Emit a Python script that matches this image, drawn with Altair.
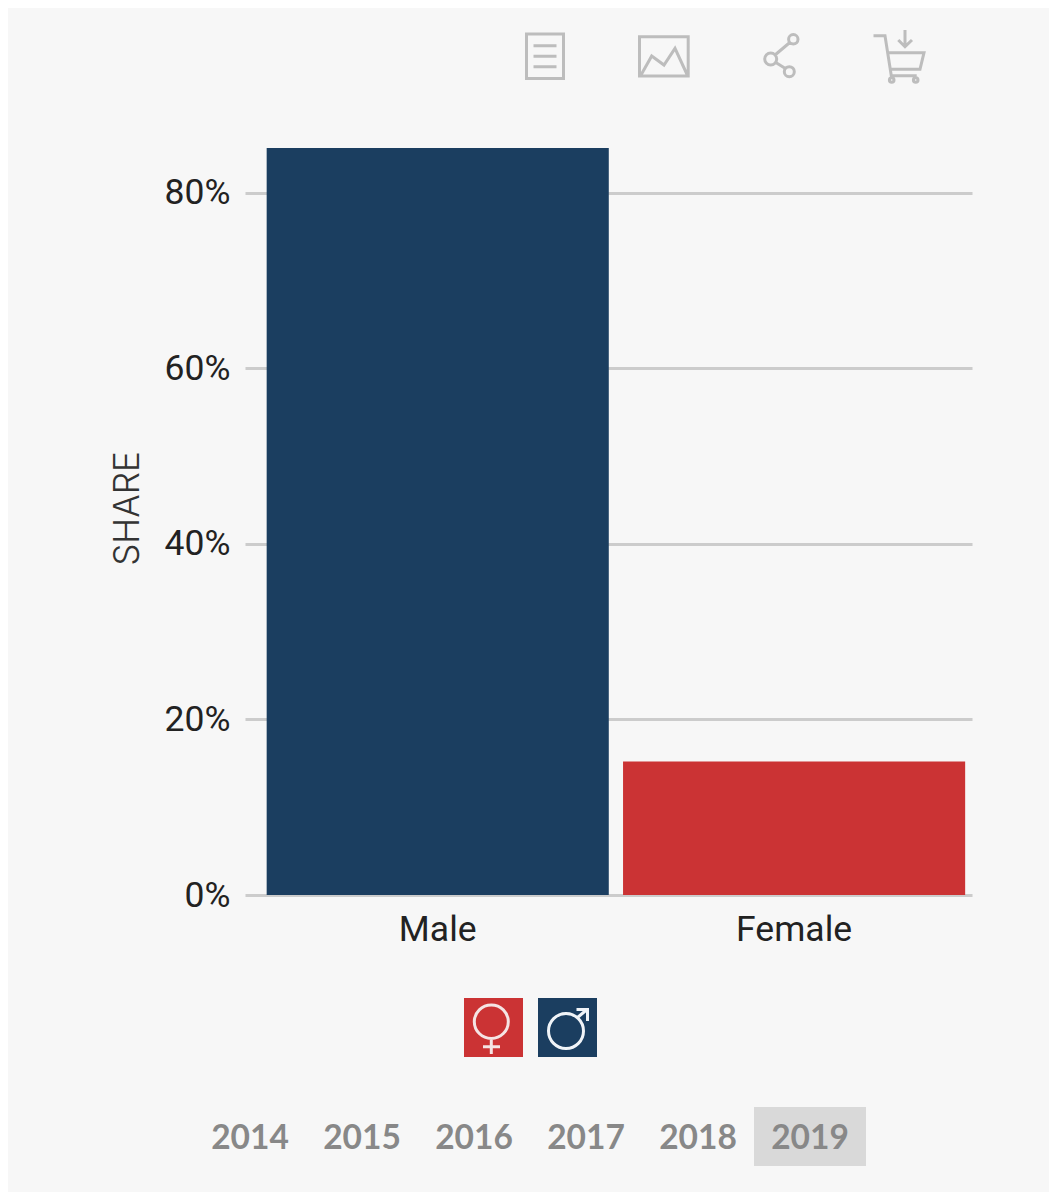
import altair as alt
import pandas as pd

categories = ["Male", "Female"]
shares = [85.1, 15.2]
bar_colors = ["#1b3e60", "#cb3334"]
tick_values = [0, 20, 40, 60, 80]
years = ["2014", "2015", "2016", "2017", "2018", "2019"]
year_centres = [250, 362, 474, 586, 698, 810]

BG = "#f7f7f7"
ICON = "#bdbdbd"
LEFT, TOP = 245, 148   # page position of the plot area


def px(v):
    return alt.value(v - LEFT)


def py(v):
    return alt.value(v - TOP)


def circle(cx, cy, r):
    return f"M{cx - r},{cy}A{r},{r} 0 1,1 {cx + r},{cy}A{r},{r} 0 1,1 {cx - r},{cy}Z"


def ellipse(cx, cy, rx, ry):
    return f"M{cx - rx},{cy}A{rx},{ry} 0 1,1 {cx + rx},{cy}A{rx},{ry} 0 1,1 {cx - rx},{cy}Z"


def icon(path, color, width):
    # size 4 makes one path unit equal to one pixel; anchored at page origin
    return (
        alt.Chart(pd.DataFrame({"i": [0]}))
        .mark_point(shape=path, size=4, filled=False, stroke=color, strokeWidth=width, opacity=1)
        .encode(x=px(0), y=py(0))
    )


def box(x1, x2, y1, y2, color):
    return (
        alt.Chart(pd.DataFrame({"i": [0]}))
        .mark_rect(color=color)
        .encode(x=px(x1), x2=px(x2), y=py(y1), y2=py(y2))
    )


bars = (
    alt.Chart(pd.DataFrame({"cat": categories, "share": shares}))
    .mark_bar()
    .encode(
        x=alt.X(
            "cat:N",
            sort=categories,
            scale=alt.Scale(paddingInner=0.04, paddingOuter=0.04, align=0.76),
            axis=alt.Axis(
                title=None, labelAngle=0, labelFont="Roboto", labelFontSize=35.5,
                labelColor="#222222", ticks=False, domain=False, labelPadding=17,
            ),
        ),
        y=alt.Y(
            "share:Q",
            scale=alt.Scale(domain=[0, 85.1], nice=False),
            axis=alt.Axis(
                title="SHARE", values=tick_values, labelExpr="datum.value + '%'",
                labelFont="Roboto", labelFontSize=35.5, labelColor="#222222",
                labelPadding=15, ticks=False, domain=False,
                gridColor="#cccccc", gridWidth=3,
                titleFont="Inter", titleFontWeight=300, titleFontSize=35,
                titleColor="#333333", titleX=127 - LEFT, titleY=508 - TOP,
                titleAlign="center", titleBaseline="middle",
            ),
        ),
        color=alt.Color("cat:N", scale=alt.Scale(domain=categories, range=bar_colors), legend=None),
    )
)

doc = "M526.5,34H563.5V78.5H526.5Z M533.5,45.7H556.5 M533.5,56.3H556.5 M533.5,66.7H556.5"
image = "M639.5,36.7H688.2V76H639.5Z M641,75L651.7,56L664,65L675,48.3L687.3,75"
share = (
    circle(793.3, 39.3, 4.7) + circle(770.7, 59, 6) + circle(789.3, 71.7, 5)
    + "M775,55L789.8,42.5 M775.8,62.5L785,68.3"
)
cart = (
    "M873.5,35.7H885L891.7,78.3 M887,52.7H924L920,69.3H889.5 M891.7,75.7H916.7"
    + circle(891.7, 80, 2.3) + circle(915.7, 80, 2.3)
    + "M905,30V46.7 M898.3,40L905,46.7L912,40"
)

female = ellipse(491.3, 1021.7, 17, 16.7) + "M491.3,1038.4V1054 M483,1046.7H500"
male = circle(566, 1031, 17.5) + "M577,1018L587,1009.5 M576.5,1009.5H587.5V1021"

layers = [
    bars,
    icon(doc, ICON, 3), icon(image, ICON, 3), icon(share, ICON, 3), icon(cart, ICON, 3),
    box(464, 523, 998, 1057, "#cb3334"), box(538, 597, 998, 1057, "#1b3e60"),
    icon(female, "#f5e4e4", 3), icon(male, "#f0f4f8", 3),
    box(754, 866, 1107, 1166, "#d9d9d9"),
]
for year, centre in zip(years, year_centres):
    layers.append(
        alt.Chart(pd.DataFrame({"year": [year]}))
        .mark_text(font="Lato", fontWeight="bold", fontSize=33.5, color="#888888", align="center", baseline="middle")
        .encode(text="year:N", x=px(centre), y=py(1138.5))
    )

chart = (
    alt.layer(*layers)
    .properties(
        width=727, height=747, background=BG,
        padding={"left": LEFT - 8, "top": TOP - 8, "right": 1041 - 237 - 727, "bottom": 1184 - 140 - 747},
        autosize=alt.AutoSizeParams(type="none"),
    )
    .configure_view(stroke=None)
)

chart.save("out.html", embed_options={"renderer": "svg", "actions": False})
